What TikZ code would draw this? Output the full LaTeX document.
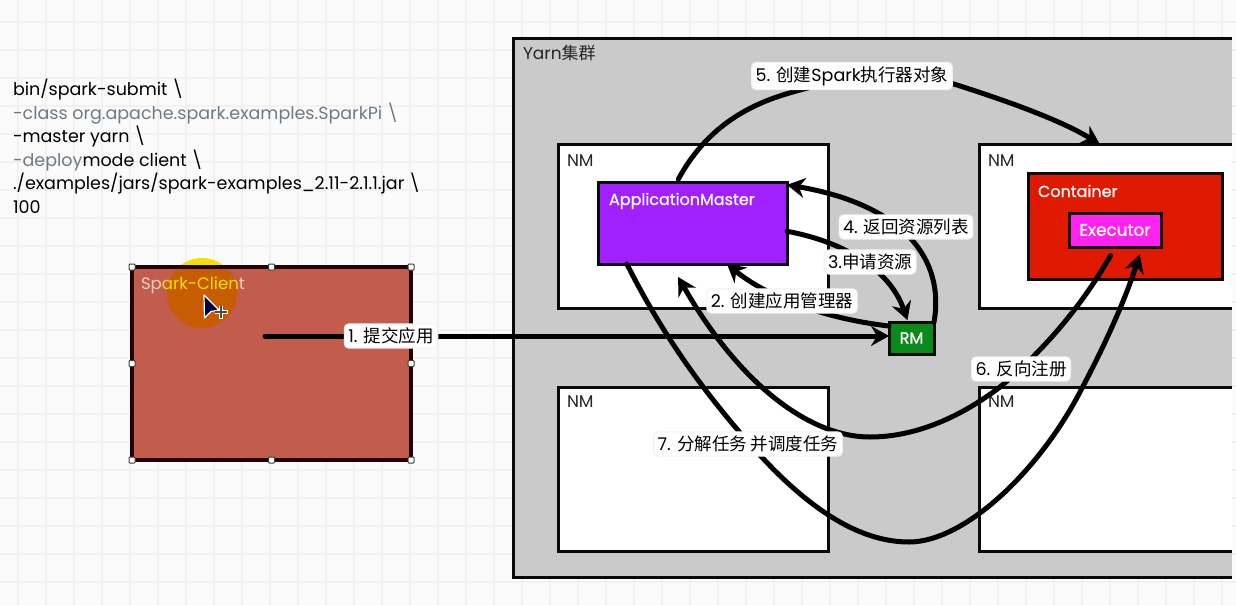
\documentclass[tikz,border=0pt]{standalone}
\usepackage{fontspec}
\setmainfont{Poppins}
\newfontfamily\cjk{Noto Sans CJK SC}
\newfontfamily\medfont{Poppins}[FakeBold=1]
\usetikzlibrary{arrows.meta,calc}
\definecolor{paper}{HTML}{FAFBFA}
\definecolor{gridc}{HTML}{F0F1F0}
\definecolor{yarnc}{HTML}{C9CAC9}
\definecolor{lineink}{HTML}{0A0A0A}
\definecolor{amc}{HTML}{A120FF}
\definecolor{contc}{HTML}{E01A00}
\definecolor{execc}{HTML}{FF22F0}
\definecolor{rmc}{HTML}{0B8A1C}
\definecolor{clientc}{HTML}{C25C4C}
\definecolor{clientb}{HTML}{200403}
\definecolor{greytxt}{HTML}{6F7A85}
\definecolor{halo}{HTML}{F4E000}
\definecolor{haloin}{HTML}{C85C00}
\definecolor{clabel}{HTML}{EFCFC8}
\tikzset{
  x=1pt,y=-1pt,
  every node/.style={inner sep=0pt,outer sep=0pt},
  box/.style={anchor=north west,draw=lineink,line width=3pt,line join=miter},
  openbox/.style={anchor=north west,fill=white},
  edgeline/.style={draw=lineink,line width=3pt,line cap=butt,line join=miter},
  conn/.style={draw=black,line width=5pt,line cap=round,line join=round},
  head/.style={-{Stealth[length=18pt,width=20pt,inset=6pt]}},
  tag/.style={fill=white,rounded corners=4.5pt,draw=gridc,line width=1pt,inner xsep=4pt,inner ysep=4pt,font=\fontsize{17.5}{19}\selectfont},
  nm/.style={anchor=west,font=\fontsize{17}{19}\selectfont,text=black!85},
  whitetxt/.style={anchor=west,font=\fontsize{16}{19}\medfont\selectfont,text=white},
  handle/.style={draw=black!75,fill=white,line width=1pt,minimum size=6pt,rounded corners=0.8pt},
  cmd/.style={anchor=north west,align=left,font=\fontsize{17.5}{23.6}\selectfont},
}
\begin{document}
\begin{tikzpicture}
\useasboundingbox (0,0) rectangle (1236,605);
\fill[paper] (0,0) rectangle (1236,605);
\foreach \gx in {18,46,...,1235} \draw[gridc,line width=1.8pt] (\gx,0) -- (\gx,605);
\foreach \gy in {22,50,...,605} \draw[gridc,line width=1.8pt] (0,\gy) -- (1236,\gy);

% command text
\node[cmd] (command) at (13,79) {bin/spark-submit \textbackslash\\
\textcolor{greytxt}{-class org.apache.spark.examples.SparkPi \textbackslash}\\
-master yarn \textbackslash\\
\textcolor{greytxt}{-deploy}mode client \textbackslash\\
./examples/jars/spark-examples\_2.11-2.1.1.jar \textbackslash\\
100};

% client
\node[circle,fill=halo,minimum size=70pt] (haloout) at (202,293) {};
\node[anchor=north west,fill=clientc,minimum width=279pt,minimum height=193pt] (client) at (132,267) {};
\begin{scope}
\clip (client.north west) rectangle (client.south east);
\node[circle,fill=haloin,minimum size=70pt] (haloinner) at (202,293) {};
\end{scope}
\draw[draw=clientb,line width=3.4pt] (client.north west) rectangle (client.south east);
\node[anchor=west,font=\fontsize{16.6}{19}\selectfont] (clientlabel) at (141,285) {\textcolor{clabel}{Sp}\textcolor{halo}{ark-Clien}\textcolor{clabel}{t}};
\foreach \a/\n in {north west/a,north/b,north east/c,west/d,east/e,south west/f,south/g,south east/h}
  \node[handle] (h\n) at (client.\a) {};
% cursor
\draw[fill=black!75!blue,draw=white,line width=1.2pt,line join=round] (204,295) -- (204.5,318) -- (211,311.5) -- (219,310) -- cycle;
\draw[white,line width=3.6pt] (214.5,312) -- (227.5,312) (221,305.5) -- (221,318.5);
\draw[black!70,line width=1.6pt] (215,312) -- (227,312) (221,306) -- (221,318);

% cluster
\fill[yarnc] (513,38) rectangle (1232,577);
\node[anchor=north west,minimum width=719pt,minimum height=539pt] (yarn) at (513,38) {};
\draw[edgeline] (yarn.north east) -- (yarn.north west) -- (yarn.south west) -- (yarn.south east);
\node[nm] (yarnlabel) at (523,53) {Yarn{\cjk 集群}};

\node[box,fill=white,minimum width=270pt,minimum height=164pt] (nma) at (558,144) {};
\node[box,fill=white,minimum width=270pt,minimum height=164pt] (nmc) at (558,387) {};
\node[openbox,minimum width=253pt,minimum height=164pt] (nmb) at (979,144) {};
\draw[edgeline] (nmb.north east) -- (nmb.north west) -- (nmb.south west) -- (nmb.south east);
\node[openbox,minimum width=253pt,minimum height=164pt] (nmd) at (979,387) {};
\draw[edgeline] (nmd.north east) -- (nmd.north west) -- (nmd.south west) -- (nmd.south east);
\node[nm] at (567,161) (la) {NM};
\node[nm] at (988,161) (lb) {NM};
\node[nm] at (567,402) (lc) {NM};
\node[nm] at (988,402) (ld) {NM};

\node[box,fill=amc,minimum width=189pt,minimum height=82pt] (am) at (598,182) {};
\node[whitetxt] (amlabel) at (609,201) {ApplicationMaster};
\node[box,fill=contc,minimum width=194pt,minimum height=106pt] (cont) at (1028,173) {};
\node[whitetxt] (contlabel) at (1038,191) {Container};
\node[box,fill=execc,minimum width=92pt,minimum height=34pt] (exec) at (1069,213) {};
\node[font=\fontsize{16.8}{19}\medfont\selectfont,text=white] (execlabel) at (exec.center) {Executor};
\node[box,fill=rmc,minimum width=45pt,minimum height=32pt] (rm) at (889,322) {};
\node[font=\fontsize{16}{19}\medfont\selectfont,text=white] (rmlabel) at (rm.center) {RM};

% connectors
\coordinate (start) at (265,336);
\draw[conn,head] (start) -- (rm.west |- start);
\draw[conn,head] (rm.152) .. controls (820,318) and (765,295) .. (am.-50);
\draw[conn,head,shorten >=2pt] (am.-5.4) .. controls (845,242) and (890,270) .. (rm.102);
\draw[conn,head] (rm.north east) .. controls (945,260) and (905,205) .. (am.22);
\draw[conn,head,shorten <=3pt] (am.111) .. controls (705,130) and (745,105) .. (793,92)
  .. controls (840,78) and (910,70) .. (957,85)
  .. controls (1010,102) and (1060,120) .. (nmb.94.5);
\draw[conn,head,shorten <=10pt,shorten >=15pt] (exec.-88) .. controls (1085,300) and (1050,345) .. (1000,387)
  .. controls (950,425) and (905,437) .. (870,437)
  .. controls (810,437) and (740,385) .. (am.-118);
\draw[conn,head,shorten >=8pt] (am.212) .. controls (665,340) and (710,400) .. (758,453)
  .. controls (810,510) and (860,542) .. (909,542)
  .. controls (965,542) and (1040,470) .. (1081,390)
  .. controls (1105,345) and (1125,300) .. (exec.-32);

% connector labels
\node[tag] (t1) at (391,336) {1. {\cjk 提交应用}};
\node[tag] (t2) at (782,301) {2. {\cjk 创建应用管理器}};
\node[tag] (t3) at (870,262) {3.{\cjk 申请资源}};
\node[tag] (t4) at (906,227) {4. {\cjk 返回资源列表}};
\node[tag] (t5) at (852,76) {5. {\cjk 创建}Spark{\cjk 执行器对象}};
\node[tag] (t6) at (1021,369) {6. {\cjk 反向注册}};
\node[tag] (t7) at (748,444) {7. {\cjk 分解任务 并调度任务}};
\end{tikzpicture}
\end{document}
